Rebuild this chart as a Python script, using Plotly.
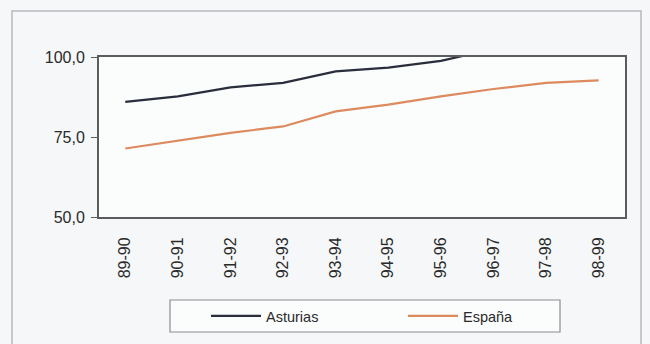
import plotly.graph_objects as go

seasons = ["89-90", "90-91", "91-92", "92-93", "93-94", "94-95", "95-96", "96-97", "97-98", "98-99"]
asturias = [86.0, 87.7, 90.5, 91.9, 95.5, 96.7, 98.8, 102.5, 104.0, 105.5]
espana = [71.4, 73.9, 76.3, 78.3, 83.0, 85.1, 87.7, 90.0, 91.9, 92.7]
y_ticks = [50, 75, 100]
y_ticktext = ["50,0", "75,0", "100,0"]

L, R, T, B = 99, 625, 57, 217
W = R - L
H = B - T


def px(x):
    return (x - L) / W


def py(y):
    return (B - y) / H


fig = go.Figure()
fig.add_trace(go.Scatter(x=seasons, y=asturias, name="Asturias", mode="lines",
                         line=dict(color="#2a2d3b", width=2.2)))
fig.add_trace(go.Scatter(x=seasons, y=espana, name="España", mode="lines",
                         line=dict(color="#dc8a5e", width=2.2)))

fig.update_layout(
    width=650, height=344,
    margin=dict(l=L, r=650 - R, t=T, b=344 - B, autoexpand=False),
    paper_bgcolor="#f5f7f8",
    plot_bgcolor="#fbfcfc",
    font=dict(family="Liberation Sans, Arial, sans-serif", size=16, color="#2a2a2a"),
    showlegend=True,
    legend=dict(orientation="h", x=px(206), xanchor="left", y=py(300), yanchor="top",
                borderwidth=0, bgcolor="rgba(0,0,0,0)", itemwidth=50,
                entrywidth=132, font=dict(size=14.5)),
    xaxis=dict(type="category", range=[-0.5, 9.5], showgrid=False, showline=True, mirror=True,
               linecolor="#5a5c5e", linewidth=2, tickangle=-90, ticks="",
               ticklabelstandoff=12, automargin=False),
    yaxis=dict(range=[50, 100], tickvals=y_ticks, ticktext=y_ticktext, showgrid=False,
               showline=True, mirror=True, linecolor="#5a5c5e", linewidth=2,
               ticks="outside", ticklen=6, tickcolor="#5a5c5e", zeroline=False,
               ticklabelstandoff=3, automargin=False),
    shapes=[
        dict(type="rect", xref="paper", yref="paper",
             x0=px(12), x1=px(641), y0=py(360), y1=py(11),
             line=dict(color="#b5b9bd", width=1.5), layer="below"),
        dict(type="rect", xref="paper", yref="paper",
             x0=px(170), x1=px(560), y0=py(332), y1=py(300),
             line=dict(color="#8a8d90", width=1.2), fillcolor="#fbfcfc", layer="below"),
    ],
)

fig.write_html("out.html", config={"displayModeBar": False},
               post_script="document.body.style.margin='0';document.body.style.padding='0';")
